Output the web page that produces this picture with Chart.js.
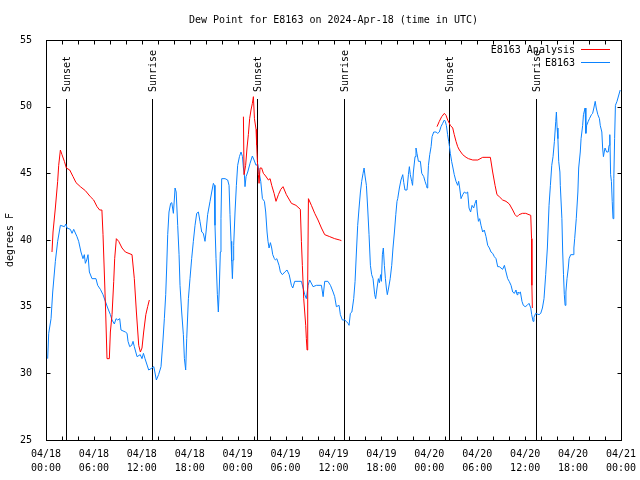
<!DOCTYPE html>
<html>
<head>
<meta charset="utf-8">
<title>Dew Point for E8163</title>
<script src="https://cdn.jsdelivr.net/npm/chart.js@4.4.1/dist/chart.umd.min.js"></script>
<style>
  html, body { margin: 0; padding: 0; background: #fff; }
  canvas { display: block; }
</style>
</head>
<body>
<canvas id="dewChart" width="640" height="480"></canvas>
<script>
// hours since 04/18 00:00 UTC
const obsHours = [0.21, 0.34, 0.63, 0.84, 1.17, 1.46, 1.8, 2.3, 2.5, 2.63, 3.05, 3.26, 3.47, 3.88, 4.09, 4.38, 4.63, 4.8, 4.93, 5.1,
  5.26, 5.43, 5.76, 6.26, 6.47, 6.81, 7.14, 7.43, 7.73, 8.06, 8.27, 8.56, 8.77, 8.98, 9.23, 9.39, 9.94, 10.15, 10.27, 10.48,
  10.73, 10.9, 11.06, 11.4, 11.8, 12.02, 12.2, 12.4, 12.86, 13.27, 13.5, 13.82, 14.1, 14.4, 14.65, 14.82, 14.99, 15.11, 15.24, 15.4,
  15.61, 15.75, 15.95, 16.1, 16.16, 16.3, 16.49, 16.66, 16.78, 16.99, 17.2, 17.33, 17.49, 17.62, 17.83, 18.03, 18.24, 18.45, 18.66, 18.87,
  19.08, 19.28, 19.5, 19.7, 19.91, 20.04, 20.24, 20.54, 20.75, 20.96, 21.08, 21.16, 21.29, 21.46, 21.58, 21.7, 21.83, 21.91, 22.0, 22.42,
  22.75, 22.92, 23.04, 23.17, 23.25, 23.34, 23.42, 23.5, 23.67, 23.84, 24.0, 24.22, 24.42, 24.6, 24.72, 24.84, 24.92, 25.05, 25.26, 25.55,
  25.84, 26.05, 26.3, 26.5, 26.68, 26.89, 27.1, 27.35, 27.51, 27.68, 27.8, 27.93, 28.1, 28.26, 28.39, 28.6, 28.73, 28.9, 29.18, 29.35,
  29.6, 29.9, 30.18, 30.45, 30.73, 30.9, 31.14, 31.56, 31.98, 32.19, 32.4, 32.6, 32.82, 33.02, 33.44, 33.86, 34.49, 34.7, 34.9, 35.3,
  35.62, 35.95, 36.15, 36.36, 36.7, 36.86, 37.11, 37.4, 37.6, 37.82, 37.95, 38.11, 38.3, 38.53, 38.7, 38.87, 39.03, 39.2, 39.37, 39.53,
  39.7, 39.83, 39.95, 40.12, 40.28, 40.45, 40.62, 40.78, 40.95, 41.16, 41.28, 41.45, 41.62, 41.75, 41.9, 42.0, 42.12, 42.24, 42.37, 42.5,
  42.62, 42.74, 42.9, 43.1, 43.29, 43.45, 43.63, 43.8, 43.95, 44.04, 44.25, 44.45, 44.67, 44.8, 44.95, 45.2, 45.38, 45.5, 45.62, 45.79,
  45.9, 46.0, 46.21, 46.33, 46.45, 46.63, 46.88, 47.05, 47.3, 47.46, 47.63, 47.72, 47.8, 47.89, 48.05, 48.22, 48.34, 48.55, 48.84, 49.05,
  49.25, 49.46, 49.67, 49.88, 50.0, 50.13, 50.29, 50.42, 50.5, 50.63, 50.79, 50.96, 51.12, 51.34, 51.55, 51.67, 51.8, 51.97, 52.18, 52.39,
  52.6, 52.8, 52.97, 53.17, 53.35, 53.55, 53.72, 53.88, 54.0, 54.15, 54.3, 54.47, 54.68, 54.88, 55.1, 55.31, 55.52, 55.72, 55.93, 56.14,
  56.35, 56.56, 56.76, 56.97, 57.18, 57.4, 57.6, 57.81, 58.0, 58.23, 58.44, 58.65, 58.85, 58.98, 59.1, 59.23, 59.4, 59.6, 59.77, 60.0,
  60.25, 60.48, 60.7, 60.82, 60.99, 61.1, 61.32, 61.5, 61.74, 61.95, 62.16, 62.36, 62.57, 62.78, 62.99, 63.16, 63.33, 63.49, 63.66, 63.83,
  63.91, 64.0, 64.1, 64.2, 64.35, 64.4, 64.6, 64.7, 64.8, 64.9, 65.0, 65.1, 65.24, 65.4, 65.5, 65.7, 66.0, 66.1, 66.2, 66.4,
  66.6, 66.7, 66.9, 67.0, 67.2, 67.3, 67.5, 67.6, 67.7, 67.9, 68.05, 68.3, 68.45, 68.6, 68.77, 68.9, 69.1, 69.3, 69.4, 69.6,
  69.7, 69.8, 69.9, 70.0, 70.2, 70.4, 70.5, 70.6, 70.7, 70.8, 70.9, 71.0, 71.1, 71.2, 71.3, 71.5, 71.9];
const obsDew = [31.1, 33.0, 34.1, 36.1, 38.4, 39.9, 41.1, 41.0, 41.2, 40.9, 40.8, 40.5, 40.8, 40.25, 39.9, 39.1, 38.6, 38.9, 38.25, 38.5,
  38.9, 37.6, 37.1, 37.1, 36.6, 36.3, 35.9, 35.4, 34.9, 34.4, 34.0, 33.7, 34.1, 34.0, 34.1, 33.25, 33.1, 33.0, 32.4, 32.0,
  32.1, 32.4, 32.0, 31.25, 31.4, 31.1, 31.5, 31.1, 30.25, 30.4, 30.5, 29.5, 29.9, 30.5, 32.5, 34.1, 35.9, 37.9, 40.4, 42.1,
  42.75, 42.8, 42.0, 43.3, 43.9, 43.6, 41.1, 38.9, 36.6, 34.6, 32.9, 31.1, 30.25, 32.6, 35.6, 37.1, 38.6, 39.9, 41.1, 42.0,
  42.1, 41.4, 40.6, 40.5, 39.9, 40.6, 41.9, 42.9, 43.6, 44.25, 44.1, 41.1, 38.6, 35.9, 34.6, 36.4, 39.1, 41.6, 44.6, 44.6,
  44.5, 44.1, 41.9, 39.9, 38.4, 37.1, 38.5, 39.6, 42.1, 44.1, 45.6, 46.25, 46.6, 46.25, 45.4, 44.9, 44.0, 44.75, 45.1, 45.75,
  46.3, 46.0, 45.6, 45.7, 45.1, 44.4, 43.1, 42.9, 42.1, 40.6, 39.9, 39.4, 39.8, 39.4, 38.9, 38.6, 38.5, 38.6, 38.1, 37.6,
  37.4, 37.6, 37.75, 37.4, 36.6, 36.4, 36.9, 36.9, 36.9, 36.4, 35.9, 35.6, 36.6, 37.0, 36.5, 36.6, 36.6, 35.75, 36.9, 36.9,
  36.6, 36.1, 35.75, 35.0, 35.1, 34.4, 34.0, 34.0, 33.9, 33.75, 33.6, 34.5, 34.6, 35.6, 36.9, 39.1, 41.1, 42.4, 43.6, 44.4,
  45.0, 45.4, 44.8, 44.1, 42.4, 40.4, 38.1, 37.4, 37.1, 35.9, 35.6, 36.4, 37.1, 36.8, 37.4, 36.9, 38.9, 39.4, 38.1, 37.1,
  36.4, 35.9, 36.4, 37.1, 38.1, 39.4, 40.6, 41.9, 42.9, 43.1, 43.9, 44.5, 44.9, 44.3, 43.75, 43.75, 44.9, 45.5, 44.9, 44.4,
  44.1, 45.1, 46.25, 46.9, 46.5, 45.9, 45.9, 45.0, 44.75, 44.4, 44.1, 43.9, 44.5, 45.6, 46.4, 47.0, 47.75, 48.1, 48.1, 48.0,
  48.1, 48.5, 48.75, 49.0, 48.9, 48.6, 47.9, 47.4, 47.1, 46.5, 45.9, 45.4, 44.9, 44.4, 44.1, 44.4, 43.9, 43.1, 43.4, 43.6,
  43.5, 43.6, 42.4, 42.1, 42.6, 42.4, 42.75, 43.0, 42.1, 41.4, 41.6, 41.1, 40.6, 40.75, 40.25, 39.6, 39.4, 39.1, 39.0, 38.75,
  38.6, 38.0, 38.0, 37.9, 37.8, 38.1, 37.6, 37.1, 36.9, 36.6, 36.1, 36.0, 36.25, 35.9, 36.1, 36.0, 36.1, 35.4, 35.1, 35.0,
  35.1, 35.25, 34.9, 34.4, 33.9, 34.2, 34.5, 34.45, 34.4, 34.5, 34.9, 35.6, 37.4, 39.4, 42.6, 44.1, 45.6, 46.25, 47.4, 48.9,
  49.6, 48.4, 47.6, 45.9, 45.1, 44.1, 41.6, 39.1, 37.4, 35.9, 35.1, 36.1, 37.1, 37.9, 38.6, 38.9, 38.9, 39.4, 40.1, 41.6,
  43.6, 45.4, 46.6, 47.6, 48.6, 49.4, 49.9, 48.0, 48.6, 48.9, 49.1, 49.4, 49.5, 49.9, 50.4, 49.9, 49.4, 49.1, 48.6, 48.1,
  46.9, 46.25, 46.6, 46.9, 46.6, 46.6, 47.1, 47.9, 44.9, 44.4, 42.9, 41.6, 44.6, 47.6, 50.1, 50.4, 51.25];

// analysis series, null = no analysis
const anaHours = [0.75, 0.88, 1.17, 1.46, 1.59, 1.8, 2.0, 2.3, 2.55, 2.97, 3.39, 3.76, 4.3, 4.93, 5.55, 5.97, 6.39, 6.72, 7.0, 7.14,
  7.3, 7.47, 7.64, 7.93, 8.06, 8.27, 8.48, 8.6, 8.81, 9.1, 9.52, 9.94, 10.77, 11.06, 11.32, 11.61, 11.82, 12.02, 12.23, 12.5,
  12.73, 12.94, 18.0,
  24.72, 24.8, 25.0, 25.17, 25.34, 25.5, 25.67, 25.84, 25.97, 26.1, 26.3, 26.38, 26.47, 26.59, 26.68, 26.8, 27.0, 27.22, 27.5, 27.85,
  28.06, 28.26, 28.56, 28.8, 29.1, 29.4, 29.68, 30.1, 30.73, 31.3, 31.85, 31.98, 32.1, 32.27, 32.52, 32.6, 32.69, 32.77, 32.86, 33.23,
  33.65, 34.06, 34.49, 34.9, 35.53, 36.15, 36.78, 36.99, 43.0,
  48.96, 49.25, 49.55, 49.88, 50.09, 50.3, 50.63, 50.93, 51.12, 51.34, 51.55, 51.76, 52.18, 52.6, 52.9, 53.44, 54.07, 54.68, 55.22, 55.64,
  55.93, 56.23, 56.47, 56.76, 57.18, 57.6, 58.02, 58.44, 58.73, 58.98, 59.23, 59.66, 60.07, 60.48, 60.7, 60.8, 60.84, 60.9];
const anaDew = [39.1, 40.6, 42.4, 44.4, 45.6, 46.75, 46.4, 45.9, 45.4, 45.25, 44.75, 44.3, 44.0, 43.7, 43.25, 43.0, 42.5, 42.25, 42.25, 40.4,
  37.6, 34.6, 31.1, 31.1, 33.1, 34.4, 36.9, 38.6, 40.1, 39.9, 39.4, 39.1, 38.9, 37.1, 34.6, 32.1, 31.6, 31.9, 33.1, 34.4,
  35.0, 35.5, null,
  49.25, 44.9, 45.6, 46.9, 47.9, 49.1, 49.75, 50.25, 50.75, 49.1, 48.3, 47.1, 45.9, 44.9, 44.25, 45.4, 45.4, 45.0, 44.8, 44.5,
  44.6, 44.1, 43.5, 42.9, 43.4, 43.8, 44.0, 43.4, 42.75, 42.6, 42.3, 39.9, 38.1, 35.6, 33.6, 32.6, 31.75, 37.0, 43.1, 42.6,
  42.0, 41.5, 40.9, 40.4, 40.25, 40.1, 40.0, 39.95, null,
  48.5, 48.9, 49.25, 49.5, 49.35, 49.0, 48.6, 48.4, 47.9, 47.4, 47.0, 46.75, 46.4, 46.2, 46.1, 46.0, 46.0, 46.2, 46.2, 46.2,
  45.1, 44.1, 43.4, 43.25, 43.0, 42.9, 42.7, 42.25, 41.9, 41.75, 41.9, 42.0, 42.0, 41.9, 41.85, 40.1, 36.6, 34.9];

const seriesNames = ['E8163 Analysis', 'E8163'];
const eventHours = [2.47, 13.27, 26.45, 37.31, 50.43, 61.35];
const eventLabels = ['Sunset', 'Sunrise', 'Sunset', 'Sunrise', 'Sunset', 'Sunrise'];
const tickDates = ['04/18', '04/19', '04/20', '04/21'];
const tickTimes = ['00:00', '06:00', '12:00', '18:00'];

const RED = '#ff0000';
const BLUE = '#0a82ff';
const FONT = '10px "DejaVu Sans Mono", monospace';

Chart.defaults.font.family = '"DejaVu Sans Mono", monospace';
Chart.defaults.font.size = 10;
Chart.defaults.color = '#000';

function toPoints(hours, vals) {
    return hours.map((h, i) => ({ x: h, y: vals[i] }));
}

// box, inward ticks, sun lines, legend and titles
const decor = {
    id: 'decor',
    beforeDatasetsDraw(chart) {
        const { ctx, chartArea: a, scales: { x } } = chart;
        ctx.save();
        ctx.strokeStyle = '#000';
        ctx.fillStyle = '#000';
        ctx.lineWidth = 1;
        ctx.font = FONT;
        eventHours.forEach((h, i) => {
            const px = Math.round(x.getPixelForValue(h)) + 0.5;
            ctx.beginPath();
            ctx.moveTo(px, a.top + 59);
            ctx.lineTo(px, a.bottom);
            ctx.stroke();
            ctx.save();
            ctx.translate(px + 1, a.top + 52);
            ctx.rotate(-Math.PI / 2);
            ctx.textAlign = 'left';
            ctx.textBaseline = 'middle';
            ctx.fillText(eventLabels[i], 0, 0);
            ctx.restore();
        });
        ctx.restore();
    },
    afterDatasetsDraw(chart) {
        const { ctx, chartArea: a, scales: { x, y } } = chart;
        ctx.save();
        ctx.strokeStyle = '#000';
        ctx.fillStyle = '#000';
        ctx.lineWidth = 1;
        const L = Math.round(a.left) + 0.5, R = Math.round(a.right) + 0.5;
        const T = Math.round(a.top) + 0.5, B = Math.round(a.bottom) + 0.5;
        ctx.strokeRect(L, T, R - L, B - T);

        ctx.beginPath();
        for (let h = 0; h <= 72; h += 2) {
            const px = Math.round(x.getPixelForValue(h)) + 0.5;
            ctx.moveTo(px, B); ctx.lineTo(px, B - 4);
            ctx.moveTo(px, T); ctx.lineTo(px, T + 4);
        }
        for (let v = 25; v <= 55; v += 5) {
            const py = Math.round(y.getPixelForValue(v)) + 0.5;
            ctx.moveTo(L, py); ctx.lineTo(L + 4, py);
            ctx.moveTo(R, py); ctx.lineTo(R - 4, py);
        }
        ctx.stroke();

        ctx.font = FONT;
        ctx.textBaseline = 'middle';
        ctx.textAlign = 'center';
        ctx.fillText('Dew Point for E8163 on 2024-Apr-18 (time in UTC)', (a.left + a.right) / 2, 20);

        // legend
        const colors = [RED, BLUE];
        seriesNames.forEach((name, i) => {
            const ly = 50 + i * 13;
            ctx.fillStyle = '#000';
            ctx.textAlign = 'right';
            ctx.fillText(name, 575, ly);
            ctx.strokeStyle = colors[i];
            ctx.beginPath();
            ctx.moveTo(581, ly - 0.5);
            ctx.lineTo(610, ly - 0.5);
            ctx.stroke();
        });

        ctx.fillStyle = '#000';
        ctx.save();
        ctx.translate(10, (a.top + a.bottom) / 2);
        ctx.rotate(-Math.PI / 2);
        ctx.textAlign = 'center';
        ctx.fillText('degrees F', 0, 0);
        ctx.restore();
        ctx.restore();
    }
};

const ctx = document.getElementById('dewChart').getContext('2d');
const dewChart = new Chart(ctx, {
    type: 'line',
    data: {
        datasets: [
            {
                label: seriesNames[0],
                data: toPoints(anaHours, anaDew),
                borderColor: RED,
                borderWidth: 1,
                pointRadius: 0,
                tension: 0,
                spanGaps: false,
                fill: false
            },
            {
                label: seriesNames[1],
                data: toPoints(obsHours, obsDew),
                borderColor: BLUE,
                borderWidth: 1,
                pointRadius: 0,
                tension: 0,
                fill: false
            }
        ]
    },
    options: {
        responsive: false,
        animation: false,
        devicePixelRatio: 1,
        layout: { padding: { left: 0, right: 19, top: 40, bottom: 0 } },
        plugins: {
            legend: { display: false },
            title: { display: false },
            tooltip: { enabled: false }
        },
        scales: {
            x: {
                type: 'linear',
                min: 0,
                max: 72,
                grid: { display: false },
                border: { display: false },
                ticks: {
                    stepSize: 6,
                    autoSkip: false,
                    maxRotation: 0,
                    padding: -1,
                    font: { lineHeight: 1.4 },
                    callback: (v) => [tickDates[Math.floor(v / 24)], tickTimes[(v % 24) / 6]]
                },
                afterFit: (s) => { s.height = 40; }
            },
            y: {
                min: 25,
                max: 55,
                grid: { display: false },
                border: { display: false },
                ticks: { stepSize: 5, padding: 6 },
                afterFit: (s) => { s.width = 46; }
            }
        }
    },
    plugins: [decor]
});
</script>
</body>
</html>
